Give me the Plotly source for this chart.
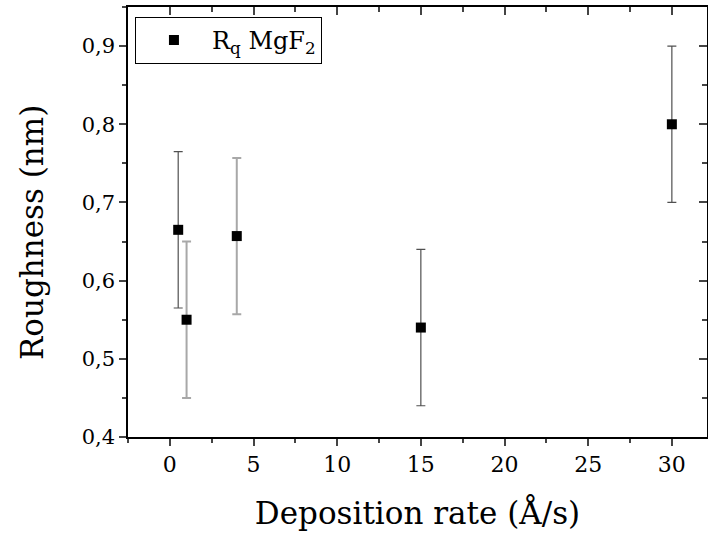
import plotly.graph_objects as go

# data
rate = [0.5, 1, 4, 15, 30]
rq = [0.665, 0.55, 0.657, 0.54, 0.80]
err = [0.1, 0.1, 0.1, 0.1, 0.1]
bar_style = ["dark", "light", "light", "dark", "dark"]
x_ticks = [0, 5, 10, 15, 20, 25, 30]
y_ticks = [0.4, 0.5, 0.6, 0.7, 0.8, 0.9]

FONT = "DejaVu Serif"
fig = go.Figure()

styles = {"dark": dict(color="#505050", thickness=1.2, width=4.5),
          "light": dict(color="#a8a8a8", thickness=2, width=4.5)}

for i, (xv, yv, ev, st) in enumerate(zip(rate, rq, err, bar_style)):
    fig.add_trace(go.Scatter(
        x=[xv], y=[yv], mode="markers",
        marker=dict(symbol="square", size=10, color="black"),
        error_y=dict(type="data", array=[ev], visible=True, **styles[st]),
        name="R<sub>q</sub> MgF<sub>2</sub>",
        showlegend=(i == 0),
    ))

# invisible trace on mirror axes
fig.add_trace(go.Scatter(x=[rate[0]], y=[rq[0]], xaxis="x2", yaxis="y2",
                         mode="markers", marker=dict(opacity=0), showlegend=False,
                         hoverinfo="skip"))

xr = [-2.5, 32.1]
yr = [0.4, 0.95]
fig.update_layout(
    width=708, height=538,
    margin=dict(l=128, r=1, t=7, b=101),
    plot_bgcolor="white", paper_bgcolor="white",
    separators=",.",
    font=dict(family=FONT, color="black", size=20),
    xaxis=dict(range=xr, tickvals=x_ticks, ticks="outside", ticklen=7, tickwidth=1.5,
               showline=True, linecolor="black", linewidth=1.5, showgrid=False, zeroline=False,
               tickfont=dict(size=22), minor=dict(dtick=2.5, ticks="outside", ticklen=4, tickwidth=1.5, tick0=0),
               title=dict(text="Deposition rate (Å/s)", font=dict(size=31), standoff=26)),
    yaxis=dict(range=yr, tickvals=y_ticks, tickformat=".1f", ticks="outside", ticklen=7, tickwidth=1.5,
               showline=True, linecolor="black", linewidth=1.5, showgrid=False, zeroline=False,
               tickfont=dict(size=21), minor=dict(dtick=0.05, ticks="outside", ticklen=4, tickwidth=1.5, tick0=0.4)),
    xaxis2=dict(range=xr, overlaying="x", side="top", tickvals=x_ticks, ticks="inside", ticklen=8,
                tickwidth=1.5, showticklabels=False, showline=True, linecolor="black", linewidth=1.5,
                showgrid=False, zeroline=False,
                minor=dict(dtick=2.5, ticks="inside", ticklen=5, tickwidth=1.5, tick0=0)),
    yaxis2=dict(range=yr, overlaying="y", side="right", tickvals=y_ticks, ticks="inside", ticklen=8,
                tickwidth=1.5, showticklabels=False, showline=True, linecolor="black", linewidth=1.5,
                showgrid=False, zeroline=False,
                minor=dict(dtick=0.05, ticks="inside", ticklen=5, tickwidth=1.5, tick0=0.4)),
    legend=dict(x=0.012, y=0.977, xanchor="left", yanchor="top", bordercolor="black", borderwidth=1,
                bgcolor="white", font=dict(size=24, family=FONT), itemwidth=66,
                tracegroupgap=0),
    annotations=[dict(text="Roughness (nm)", textangle=-90, showarrow=False,
                      xref="paper", yref="paper", x=-0.167, y=0.475,
                      xanchor="center", yanchor="middle", font=dict(size=31))],
)

fig.write_html("out.html")
